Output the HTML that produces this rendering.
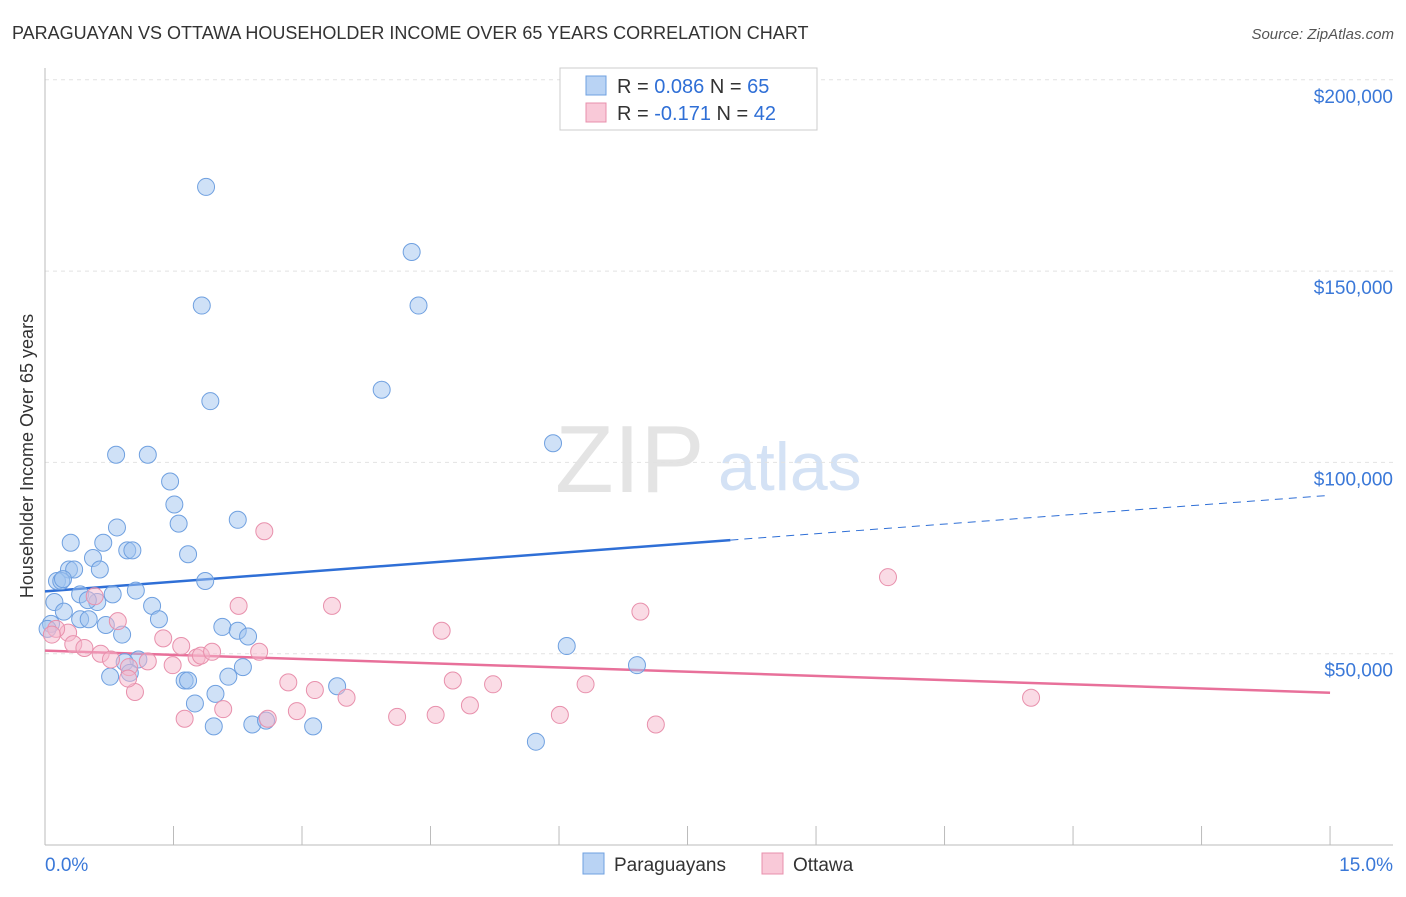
<!DOCTYPE html>
<html><head><meta charset="utf-8"><style>
body{margin:0;background:#fff;font-family:"Liberation Sans",sans-serif;}
svg text{font-family:"Liberation Sans",sans-serif;}
</style></head><body>
<svg width="1406" height="892" id="chart">
<text x="12" y="39" font-size="18" fill="#333">PARAGUAYAN VS OTTAWA HOUSEHOLDER INCOME OVER 65 YEARS CORRELATION CHART</text>
<text x="1394" y="39" font-size="15" fill="#555" text-anchor="end" font-style="italic">Source: ZipAtlas.com</text>
<text x="33" y="456" font-size="18" fill="#333" text-anchor="middle" transform="rotate(-90 33 456)">Householder Income Over 65 years</text>
<text x="555" y="492" font-size="96" fill="#e4e4e4" font-family="Liberation Serif">ZIP</text>
<text x="718" y="490" font-size="68" fill="#d4e2f5">atlas</text>
<g id="grid"></g><g id="axes"></g><g id="trends"></g><g id="pts"></g>
<g>
<rect x="560" y="68" width="257" height="62" fill="#fff" stroke="#ccc"/>
<rect x="586" y="76" width="20" height="19" fill="#b9d3f4" stroke="#6fa0e0"/>
<rect x="586" y="103" width="20" height="19" fill="#f9c9d8" stroke="#e890ac"/>
<text x="617" y="93" font-size="20" fill="#333">R = <tspan fill="#2f6fd6">0.086</tspan>    N = <tspan fill="#2f6fd6">65</tspan></text>
<text x="617" y="120" font-size="20" fill="#333">R = <tspan fill="#2f6fd6">-0.171</tspan>    N = <tspan fill="#2f6fd6">42</tspan></text>
</g>
<g>
<rect x="583" y="853" width="21" height="21" fill="#b9d3f4" stroke="#6fa0e0"/>
<text x="614" y="871" font-size="19" fill="#333">Paraguayans</text>
<rect x="762" y="853" width="21" height="21" fill="#f9c9d8" stroke="#e890ac"/>
<text x="793" y="871" font-size="19" fill="#333">Ottawa</text>
</g>
<text x="45" y="871" font-size="19" fill="#3a78d8">0.0%</text>
<text x="1393" y="871" font-size="19" fill="#3a78d8" text-anchor="end">15.0%</text>
</svg>
<script>
const NS="http://www.w3.org/2000/svg";
const yTicks=[50000,100000,150000,200000];
const yTickLabels=["$50,000","$100,000","$150,000","$200,000"];
const xTicks=[0,1.5,3,4.5,6,7.5,9,10.5,12,13.5,15];
const blueX=[1.88,4.28,1.83,4.36,3.93,1.93,5.93,0.83,1.20,1.46,1.51,2.25,1.56,0.30,0.68,0.84,0.96,1.02,0.56,1.67,0.28,0.34,0.64,0.14,0.19,0.21,1.87,1.06,0.41,0.79,0.61,0.50,1.25,0.11,0.22,0.41,0.51,1.33,0.71,2.07,0.90,2.25,2.37,6.09,6.91,1.09,0.93,2.31,0.99,0.76,2.14,1.63,1.67,3.41,1.99,1.75,1.97,2.42,2.58,3.13,5.73,0.07,0.03];
const blueY=[172000,155000,141000,141000,119000,116000,105000,102000,102000,95000,89000,85000,84000,79000,79000,83000,77000,77000,75000,76000,72000,72000,72000,69000,69000,69500,69000,66500,65500,65500,63500,64000,62500,63500,61000,59000,59000,59000,57500,57000,55000,56000,54500,52000,47000,48500,47800,46500,45000,44000,44000,43000,43000,41500,39500,37000,31000,31500,32500,31000,27000,57800,56500];
const pinkX=[2.56,9.84,2.26,3.35,6.95,4.63,0.85,0.58,0.27,0.13,0.08,0.33,0.46,0.65,0.77,0.98,1.20,1.38,1.49,1.59,1.77,1.82,1.95,2.50,2.84,3.15,3.52,4.76,5.23,6.31,4.96,2.08,2.60,2.94,4.11,4.56,6.01,7.13,1.63,1.05,0.97,11.51];
const pinkY=[82000,70000,62500,62500,61000,56000,58500,65000,55500,56500,55000,52500,51500,50000,48500,46500,48000,54000,47000,52000,49000,49500,50500,50500,42500,40500,38500,43000,42000,42000,36500,35500,33000,35000,33500,34000,34000,31500,33000,40000,43500,38500];
const blueTrend=[[0,66300],[8,79700],[15,91400]];
const pinkTrend=[[0,50800],[15,39800]];
const X=v=>45+v*85.67, Y=v=>845-v*0.003826;
function mk(t,a,p){const e=document.createElementNS(NS,t);for(const k in a)e.setAttribute(k,a[k]);(p||document.getElementById('chart')).appendChild(e);return e;}
const grid=document.getElementById('grid'),axes=document.getElementById('axes');
yTicks.forEach((v,i)=>{const l=mk('line',{x1:45,x2:1393,y1:Y(v),y2:Y(v),stroke:'#e2e2e2','stroke-dasharray':'4 4'},grid);


const t=mk('text',{x:1393,y:Y(v)+23,'font-size':19,fill:'#3a78d8','text-anchor':'end'},grid);t.textContent=yTickLabels[i];

});
const xa=mk('line',{x1:45,x2:1393,y1:845,y2:845,stroke:'#bbb'},axes);


const ya=mk('line',{x1:45,x2:45,y1:68,y2:845,stroke:'#bbb'},axes);


xTicks.forEach(v=>{const l=mk('line',{x1:X(v),x2:X(v),y1:826,y2:845,stroke:'#bbb'},axes);

});
const tr=document.getElementById('trends');
let b1=mk('line',{x1:X(blueTrend[0][0]),y1:Y(blueTrend[0][1]),x2:X(blueTrend[1][0]),y2:Y(blueTrend[1][1]),stroke:'#2f6fd6','stroke-width':2.5},tr);


let b2=mk('line',{x1:X(blueTrend[1][0]),y1:Y(blueTrend[1][1]),x2:X(blueTrend[2][0]),y2:Y(blueTrend[2][1]),stroke:'#2f6fd6','stroke-width':1,'stroke-dasharray':'8 6'},tr);


let p1=mk('line',{x1:X(pinkTrend[0][0]),y1:Y(pinkTrend[0][1]),x2:X(pinkTrend[1][0]),y2:Y(pinkTrend[1][1]),stroke:'#e8709a','stroke-width':2.5},tr);


const pts=document.getElementById('pts');
blueX.forEach((x,i)=>{const c=mk('circle',{cx:X(x),cy:Y(blueY[i]),r:8.5,fill:'rgba(160,196,240,0.5)',stroke:'#6fa0e0','stroke-width':1},pts);

});
pinkX.forEach((x,i)=>{const c=mk('circle',{cx:X(x),cy:Y(pinkY[i]),r:8.5,fill:'rgba(246,184,204,0.5)',stroke:'#e890ac','stroke-width':1},pts);

});
</script>
</body></html>
